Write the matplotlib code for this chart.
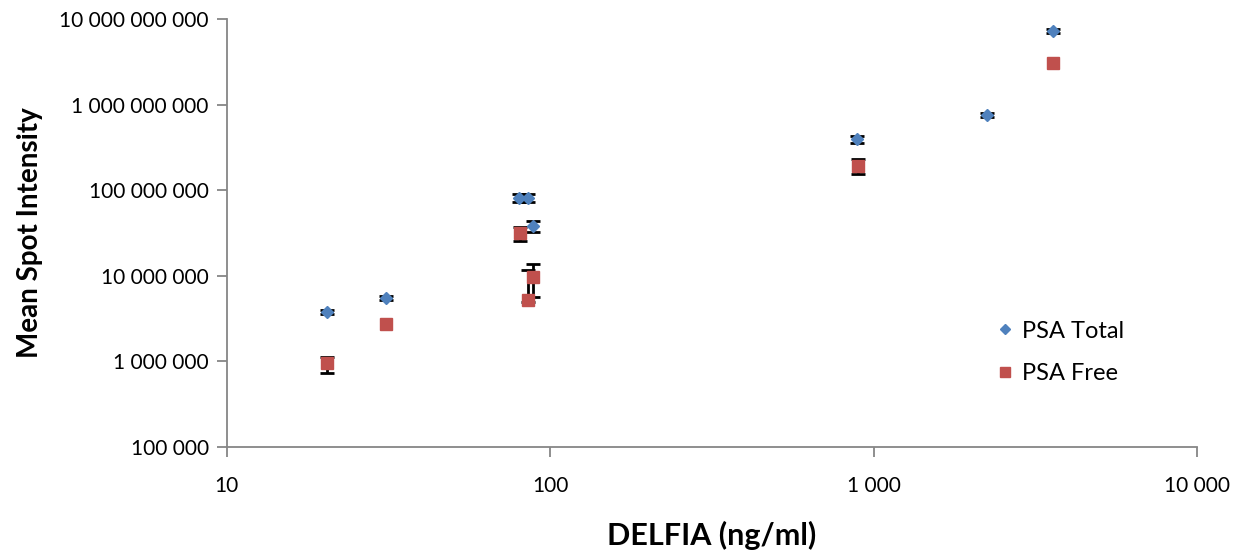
import matplotlib
matplotlib.use("Agg")
import matplotlib.pyplot as plt
from matplotlib.ticker import FuncFormatter, LogLocator, NullLocator

# DELFIA (ng/ml) vs mean spot intensity
total_x = [20.4, 31, 80.2, 85.5, 88.5, 891, 2240, 3580]
total_y = [3.78e6, 5.5e6, 8.1e7, 8.1e7, 3.82e7, 3.94e8, 7.57e8, 7.3e9]
total_err = [2.0e5, 3.0e5, 9.0e6, 9.0e6, 6.0e6, 4.0e7, 4.0e7, 4.0e8]

free_x = [20.4, 31, 80.7, 88.5, 85.5, 897, 3580]
free_y = [9.5e5, 2.73e6, 3.14e7, 9.7e6, 5.2e6, 1.93e8, 3.03e9]
free_err_lo = [2.1e5, 0, 6.0e6, 4.0e6, 3.0e5, 3.9e7, 0]
free_err_hi = [1.8e5, 0, 6.0e6, 4.0e6, 6.5e6, 3.9e7, 0]

blue = '#4F81BD'
red = '#C0504D'
gray = '#868686'

plt.rcParams['font.family'] = ['Lato', 'DejaVu Sans']

fig = plt.figure(figsize=(12.46, 5.59), dpi=100)
ax = fig.add_axes([0.182, 0.2004, 0.7787, 0.7656])

bar_style = dict(fmt='none', ecolor='black', elinewidth=2, capsize=5,
                 capthick=2, zorder=2)
ax.errorbar(total_x, total_y, yerr=total_err, **bar_style)

# points without error bars in the reference are skipped here
has_err = [lo + hi > 0 for lo, hi in zip(free_err_lo, free_err_hi)]
fx = [v for v, k in zip(free_x, has_err) if k]
fy = [v for v, k in zip(free_y, has_err) if k]
flo = [v for v, k in zip(free_err_lo, has_err) if k]
fhi = [v for v, k in zip(free_err_hi, has_err) if k]
ax.errorbar(fx, fy, yerr=[flo, fhi], **bar_style)

ax.plot(total_x, total_y, linestyle='none', marker='D', markersize=6.5,
        color=blue, label='PSA Total', zorder=3)
ax.plot(free_x, free_y, linestyle='none', marker='s', markersize=8.5,
        color=red, label='PSA Free', zorder=3)

ax.set_xscale('log')
ax.set_yscale('log')
ax.set_xlim(10, 10000)
ax.set_ylim(1e5, 1e10)

ax.xaxis.set_major_locator(LogLocator(base=10, numticks=10))
ax.yaxis.set_major_locator(LogLocator(base=10, numticks=10))
ax.xaxis.set_minor_locator(NullLocator())
ax.yaxis.set_minor_locator(NullLocator())
spaced = FuncFormatter(lambda v, p: f'{int(round(v)):,}'.replace(',', ' '))
ax.xaxis.set_major_formatter(spaced)
ax.yaxis.set_major_formatter(spaced)

for s in ['top', 'right']:
    ax.spines[s].set_visible(False)
for s in ['left', 'bottom']:
    ax.spines[s].set_color(gray)
    ax.spines[s].set_linewidth(1.3)
ax.tick_params(axis='both', which='major', direction='out', length=7,
               width=1.3, color=gray, labelsize=15, pad=6)
ax.tick_params(axis='x', pad=14)

ax.set_xlabel('DELFIA (ng/ml)', fontsize=22, fontweight='bold', labelpad=18)
ax.set_ylabel('Mean Spot Intensity', fontsize=20, fontweight='bold', labelpad=12)

ax.legend(loc='upper left', bbox_to_anchor=(0.768, 0.345), frameon=False,
          fontsize=17, handletextpad=0.2, labelspacing=0.9, handlelength=1.0,
          markerscale=0.85)

fig.savefig('out.png', dpi=100)
